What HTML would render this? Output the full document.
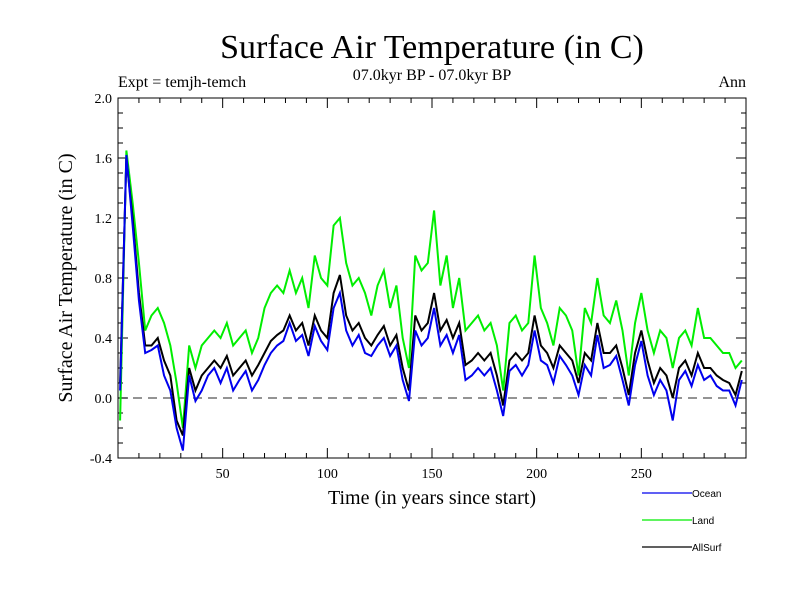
<!DOCTYPE html>
<html><head><meta charset="utf-8"><style>
body{margin:0;background:#fff;}
svg{display:block;font-family:"Liberation Serif",serif;}
</style></head><body>
<svg id="c" width="800" height="600"></svg>
<script>
const years=[1,4,7,10,13,16,19,22,25,28,31,34,37,40,43,46,49,52,55,58,61,64,67,70,73,76,79,82,85,88,91,94,97,100,103,106,109,112,115,118,121,124,127,130,133,136,139,142,145,148,151,154,157,160,163,166,169,172,175,178,181,184,187,190,193,196,199,202,205,208,211,214,217,220,223,226,229,232,235,238,241,244,247,250,253,256,259,262,265,268,271,274,277,280,283,286,289,292,295,298];
const allSurf=[0.1,1.6,1.2,0.7,0.35,0.35,0.4,0.25,0.15,-0.15,-0.25,0.2,0.05,0.15,0.2,0.25,0.2,0.28,0.15,0.2,0.25,0.15,0.22,0.3,0.38,0.42,0.45,0.55,0.45,0.5,0.35,0.55,0.45,0.4,0.7,0.82,0.55,0.45,0.5,0.4,0.35,0.42,0.48,0.35,0.42,0.2,0.05,0.55,0.45,0.5,0.7,0.45,0.52,0.4,0.5,0.22,0.25,0.3,0.25,0.3,0.15,-0.05,0.25,0.3,0.25,0.3,0.55,0.35,0.3,0.2,0.35,0.3,0.25,0.1,0.3,0.25,0.5,0.3,0.3,0.35,0.2,0.02,0.3,0.45,0.25,0.1,0.2,0.15,0.0,0.2,0.25,0.15,0.3,0.2,0.2,0.15,0.12,0.1,0.02,0.18];
const ocean=[0.05,1.62,1.15,0.65,0.3,0.32,0.35,0.15,0.05,-0.2,-0.35,0.15,-0.02,0.05,0.15,0.2,0.1,0.2,0.05,0.12,0.18,0.05,0.12,0.22,0.3,0.35,0.38,0.5,0.38,0.42,0.28,0.48,0.38,0.32,0.6,0.7,0.45,0.35,0.42,0.3,0.28,0.35,0.4,0.28,0.35,0.12,-0.02,0.45,0.35,0.4,0.6,0.35,0.42,0.3,0.42,0.12,0.15,0.2,0.15,0.2,0.05,-0.12,0.18,0.22,0.15,0.22,0.45,0.25,0.22,0.1,0.28,0.22,0.15,0.02,0.22,0.15,0.42,0.2,0.22,0.28,0.12,-0.05,0.22,0.38,0.15,0.02,0.12,0.05,-0.15,0.12,0.18,0.08,0.22,0.12,0.15,0.08,0.05,0.05,-0.05,0.12];
const land=[-0.15,1.65,1.3,0.9,0.45,0.55,0.6,0.5,0.35,0.1,-0.2,0.35,0.2,0.35,0.4,0.45,0.4,0.5,0.35,0.4,0.45,0.3,0.4,0.6,0.7,0.75,0.7,0.85,0.7,0.8,0.6,0.95,0.8,0.75,1.15,1.2,0.9,0.75,0.8,0.7,0.55,0.75,0.85,0.6,0.75,0.4,0.2,0.95,0.85,0.9,1.25,0.75,0.95,0.6,0.8,0.45,0.5,0.55,0.45,0.5,0.35,0.05,0.5,0.55,0.45,0.5,0.95,0.6,0.5,0.35,0.6,0.55,0.45,0.15,0.6,0.5,0.8,0.55,0.5,0.65,0.45,0.15,0.5,0.7,0.45,0.3,0.45,0.4,0.2,0.4,0.45,0.35,0.6,0.4,0.4,0.35,0.3,0.3,0.2,0.25];
const yTicks=[-0.4,0.0,0.4,0.8,1.2,1.6,2.0];
const xTicks=[50,100,150,200,250];
const L=118,R=746,T=98,B=458;
const xs=v=>L+(v-0)*(R-L)/300;
const ys=v=>B-(v+0.4)*(B-T)/2.4;
const svg=document.getElementById('c');
const NS='http://www.w3.org/2000/svg';
function mk(tag,attrs,parent){const e=document.createElementNS(NS,tag);for(const k in attrs)e.setAttribute(k,attrs[k]);(parent||svg).appendChild(e);return e;}
function txt(s,attrs,name){const e=mk('text',attrs);e.textContent=s;return e;}
txt('Surface Air Temperature (in C)',{x:432,y:58,'font-size':34,'text-anchor':'middle'},'chart-title');
txt('07.0kyr BP - 07.0kyr BP',{x:432,y:80,'font-size':16,'text-anchor':'middle'},'subtitle');
txt('Expt = temjh-temch',{x:118,y:87,'font-size':16},'experiment-label');
txt('Ann',{x:746,y:87,'font-size':16,'text-anchor':'end'},'season-label');
txt('Time (in years since start)',{x:432,y:504,'font-size':20,'text-anchor':'middle'},'x-axis-title');
txt('Surface Air Temperature (in C)',{x:0,y:0,'font-size':20,'text-anchor':'middle',transform:'translate(72,278) rotate(-90)'},'y-axis-title');
const z=mk('line',{x1:L,x2:R,y1:ys(0),y2:ys(0),stroke:'#555','stroke-width':1.2,'stroke-dasharray':'9,6'});


yTicks.forEach(v=>{
 txt(v.toFixed(1),{x:L-6,y:ys(v)+5,'font-size':14,'text-anchor':'end'},'y-tick-label');
});
for(let v=-0.4;v<=2.0001;v+=0.1){
 const big=Math.abs(Math.round(v*10)%4)===0;
 const w=big?10:5;
 mk('line',{x1:L,x2:L+w,y1:ys(v),y2:ys(v),stroke:'#000'});
 mk('line',{x1:R,x2:R-w,y1:ys(v),y2:ys(v),stroke:'#000'});
}
xTicks.forEach(v=>{txt(String(v),{x:xs(v),y:478,'font-size':14,'text-anchor':'middle'},'x-tick-label');});
for(let v=10;v<300;v+=10){
 const w=v%50===0?10:5;
 mk('line',{x1:xs(v),x2:xs(v),y1:B,y2:B-w,stroke:'#000'});
 mk('line',{x1:xs(v),x2:xs(v),y1:T,y2:T+w,stroke:'#000'});
}
function series(vals,color,name){
 const p=mk('polyline',{points:vals.map((v,i)=>xs(years[i])+','+ys(v)).join(' '),fill:'none',stroke:color,'stroke-width':2});
 
 
}
series(land,'#00ee00','land-line');
series(allSurf,'#000','allsurf-line');
series(ocean,'#0000ee','ocean-line');
const fr=mk('rect',{x:L,y:T,width:R-L,height:B-T,fill:'none',stroke:'#000','stroke-width':1});


[['Ocean','#0000ee',493],['Land','#00ee00',520],['AllSurf','#000',547]].forEach(([n,c,y])=>{
 const l=mk('line',{x1:642,x2:692,y1:y,y2:y,stroke:c,'stroke-width':1.2});
 
 
 txt(n,{x:692,y:y+4,'font-size':10,'font-family':'Liberation Sans, sans-serif'},'legend-entry');
});
</script>
</body></html>
